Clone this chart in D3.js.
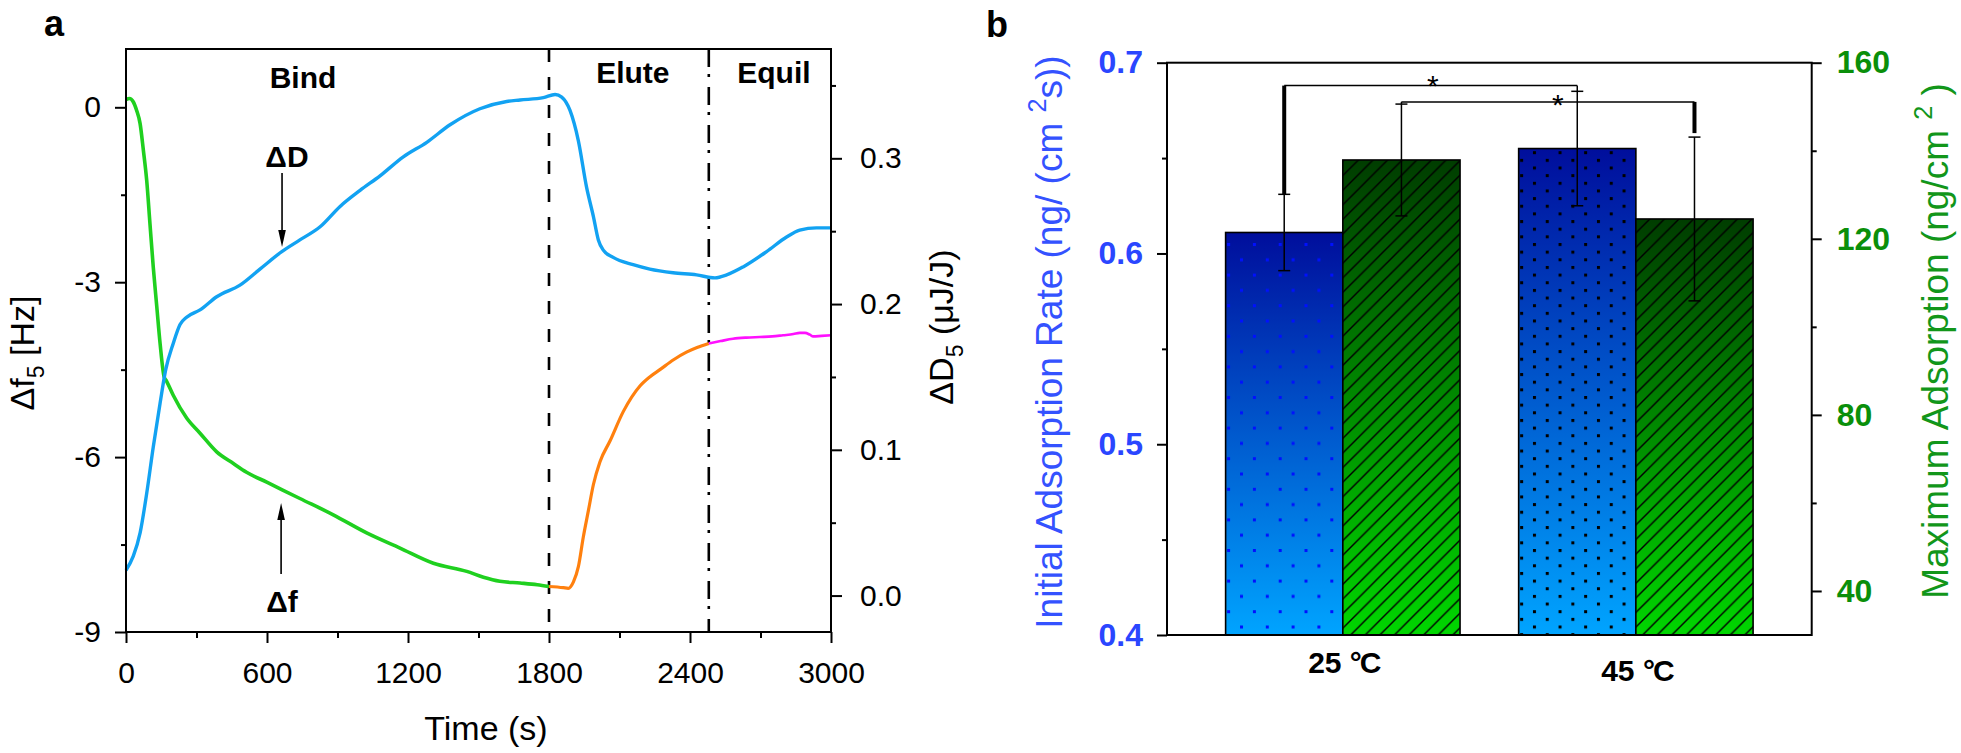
<!DOCTYPE html>
<html><head><meta charset="utf-8">
<script src="https://cdn.jsdelivr.net/npm/d3@7"></script>
<style>
html,body{margin:0;padding:0;background:#fff;}
svg{display:block;}
text{font-family:"Liberation Sans",Arial,Helvetica,sans-serif;white-space:pre;}
</style>
</head><body>
<svg id="c" width="1961" height="753"></svg>
<script>
// ================= Panel a data =================
const bindT = [0, 15, 30, 45, 60, 74, 88, 102, 116, 131, 145, 162, 173, 201, 258, 315, 386, 457, 513, 599, 740, 882, 1024, 1166, 1308, 1450, 1521, 1591, 1677, 1750, 1800];
const bindF = [0.13, 0.15, 0.10, -0.05, -0.28, -0.74, -1.25, -2.0, -2.74, -3.42, -4.05, -4.62, -4.70, -4.94, -5.33, -5.59, -5.91, -6.11, -6.26, -6.43, -6.71, -6.99, -7.30, -7.56, -7.82, -7.96, -8.06, -8.13, -8.16, -8.19, -8.22];
const eluteT = [1800, 1861, 1882, 1904, 1925, 1946, 1968, 1989, 2017, 2060, 2116, 2187, 2230, 2272, 2330, 2385, 2430, 2480];
const eluteF = [-8.22, -8.24, -8.25, -8.14, -7.88, -7.37, -6.91, -6.47, -6.08, -5.72, -5.22, -4.78, -4.62, -4.50, -4.33, -4.20, -4.12, -4.05];
const equilT = [2480, 2530, 2583, 2640, 2697, 2750, 2796, 2840, 2867, 2889, 2910, 2924, 2960, 3000];
const equilF = [-4.05, -4.01, -3.97, -3.95, -3.94, -3.93, -3.91, -3.89, -3.87, -3.87, -3.90, -3.93, -3.92, -3.91];
const dissT = [0, 31, 60, 88, 116, 145, 169, 201, 230, 258, 315, 386, 485, 570, 663, 740, 826, 911, 996, 1081, 1180, 1280, 1379, 1506, 1620, 1677, 1776, 1826, 1854, 1889, 1925, 1960, 1989, 2010, 2031, 2073, 2158, 2229, 2328, 2428, 2506, 2556, 2626, 2726, 2811, 2867, 2938, 3000];
const dissD = [0.0174, 0.027, 0.043, 0.070, 0.102, 0.132, 0.155, 0.173, 0.186, 0.191, 0.196, 0.205, 0.213, 0.224, 0.236, 0.244, 0.253, 0.267, 0.278, 0.288, 0.301, 0.311, 0.323, 0.334, 0.339, 0.340, 0.3416, 0.3438, 0.342, 0.333, 0.312, 0.280, 0.260, 0.244, 0.237, 0.232, 0.227, 0.224, 0.2215, 0.220, 0.218, 0.220, 0.2255, 0.236, 0.246, 0.2507, 0.2523, 0.2523];
const phaseLabels = ["Bind", "Elute", "Equil"];
const phaseLabelT = [753, 2157, 2757];
const phaseBoundaries = [1800, 2480];
const timeTicks = [0, 600, 1200, 1800, 2400, 3000];
const timeMinor = [300, 900, 1500, 2100, 2700];
const freqTicks = [0, -3, -6, -9];
const freqMinor = [-1.5, -4.5, -7.5];
const dissTicks = [0, 0.1, 0.2, 0.3];
const dissMinor = [0.05, 0.15, 0.25, 0.35];

// ================= Panel b data =================
const temps = ["25", "45"];
const rateMean = [0.611, 0.655];
const rateErr = [0.020, 0.030];
const maxMean = [137.9, 124.5];
const maxErr = [12.7, 18.6];
const rateTicks = [0.4, 0.5, 0.6, 0.7];
const rateMinor = [0.45, 0.55, 0.65];
const maxTicks = [40, 80, 120, 160];
const maxMinor = [60, 100, 140];
const sigRateLevel = 0.688;
const sigMaxLevel = 151.1;

// ================= drawing =================
const svg = d3.select("#c");
svg.append("rect").attr("width", 1961).attr("height", 753).attr("fill", "#fff");
const FONT = '"Liberation Sans",Arial,Helvetica,sans-serif';

function rich(t, parts, size) {
  let shift = 0;
  parts.forEach(p => {
    const ts = t.append("tspan").text(p.t);
    const target = p.sub ? size * 0.28 : p.sup ? -size * 0.42 : 0;
    ts.attr("dy", target - shift);
    shift = target;
    if (p.sub || p.sup) ts.attr("font-size", size * 0.68);
  });
}
function styleAxis(g, size, weight, color) {
  g.select(".domain").remove();
  g.selectAll(".tick line").attr("stroke", "#000").attr("stroke-width", 2);
  g.selectAll(".tick text").attr("font-size", size).attr("font-weight", weight)
    .attr("fill", color).attr("font-family", FONT);
}

// ---------- Panel a ----------
const ax = {l: 126, r: 831, t: 49, b: 632};
const x = d3.scaleLinear().domain([0, 3000]).range([ax.l, ax.r]);
const yF = d3.scaleLinear().domain([-9, 1]).range([ax.b, ax.t]);
const yD = d3.scaleLinear().domain([-0.025, 0.375]).range([ax.b, ax.t]);

const ga = svg.append("g");
styleAxis(ga.append("g").attr("transform", `translate(0,${ax.b})`)
  .call(d3.axisBottom(x).tickValues(timeTicks).tickSize(11).tickPadding(19).tickFormat(d => String(d))), 30, "normal", "#000");
styleAxis(ga.append("g").attr("transform", `translate(0,${ax.b})`)
  .call(d3.axisBottom(x).tickValues(timeMinor).tickSize(6).tickFormat("")), 30, "normal", "#000");
styleAxis(ga.append("g").attr("transform", `translate(${ax.l},0)`)
  .call(d3.axisLeft(yF).tickValues(freqTicks).tickSize(11).tickPadding(14).tickFormat(d => String(d))), 30, "normal", "#000");
styleAxis(ga.append("g").attr("transform", `translate(${ax.l},0)`)
  .call(d3.axisLeft(yF).tickValues(freqMinor).tickSize(5).tickFormat("")), 30, "normal", "#000");
styleAxis(ga.append("g").attr("transform", `translate(${ax.r},0)`)
  .call(d3.axisRight(yD).tickValues(dissTicks).tickSize(11).tickPadding(18).tickFormat(d3.format(".1f"))), 30, "normal", "#000");
styleAxis(ga.append("g").attr("transform", `translate(${ax.r},0)`)
  .call(d3.axisRight(yD).tickValues(dissMinor).tickSize(5).tickFormat("")), 30, "normal", "#000");

ga.append("line").attr("x1", x(phaseBoundaries[0])).attr("x2", x(phaseBoundaries[0]))
  .attr("y1", ax.t).attr("y2", ax.b).attr("stroke", "#000").attr("stroke-width", 2.6).attr("stroke-dasharray", "13,15");
ga.append("line").attr("x1", x(phaseBoundaries[1])).attr("x2", x(phaseBoundaries[1]))
  .attr("y1", ax.t).attr("y2", ax.b).attr("stroke", "#000").attr("stroke-width", 2.6).attr("stroke-dasharray", "18,7,3,10");

const lineF = d3.line().x(d => x(d[0])).y(d => yF(d[1])).curve(d3.curveMonotoneX);
const lineD = d3.line().x(d => x(d[0])).y(d => yD(d[1])).curve(d3.curveMonotoneX);
ga.append("path").attr("d", lineF(d3.zip(bindT, bindF))).attr("fill", "none").attr("stroke", "#1fd01f").attr("stroke-width", 3.6);
ga.append("path").attr("d", lineD(d3.zip(dissT, dissD))).attr("fill", "none").attr("stroke", "#12a2f2").attr("stroke-width", 3.4);
ga.append("path").attr("d", lineF(d3.zip(eluteT, eluteF))).attr("fill", "none").attr("stroke", "#ff800e").attr("stroke-width", 3.2);
ga.append("path").attr("d", lineF(d3.zip(equilT, equilF))).attr("fill", "none").attr("stroke", "#ff10ff").attr("stroke-width", 2.6);

ga.append("rect").attr("x", ax.l).attr("y", ax.t).attr("width", ax.r - ax.l).attr("height", ax.b - ax.t)
  .attr("fill", "none").attr("stroke", "#000").attr("stroke-width", 2);

phaseLabels.forEach((s, i) => {
  ga.append("text").attr("x", x(phaseLabelT[i])).attr("y", i === 0 ? 88 : 83).attr("text-anchor", "middle")
    .attr("font-size", 30).attr("font-weight", "bold").text(s);
});

function arrow(xp, y1, y2) {
  const dir = Math.sign(y2 - y1);
  ga.append("line").attr("x1", xp).attr("x2", xp).attr("y1", y1).attr("y2", y2 - dir * 14)
    .attr("stroke", "#000").attr("stroke-width", 1.6);
  ga.append("path").attr("d", `M${xp - 3.8},${y2 - dir * 17}L${xp + 3.8},${y2 - dir * 17}L${xp},${y2}Z`).attr("fill", "#000");
}
ga.append("text").attr("x", x(685)).attr("y", 167).attr("text-anchor", "middle").attr("font-size", 30).attr("font-weight", "bold").text("ΔD");
arrow(x(664), 173, 247);
ga.append("text").attr("x", x(664)).attr("y", 612).attr("text-anchor", "middle").attr("font-size", 30).attr("font-weight", "bold").text("Δf");
arrow(x(660), 574, 503);

ga.append("text").attr("x", 486).attr("y", 740).attr("text-anchor", "middle").attr("font-size", 34).text("Time (s)");
rich(ga.append("text").attr("transform", "translate(34,353) rotate(-90)").attr("text-anchor", "middle").attr("font-size", 34),
  [{t: "Δf"}, {t: "5", sub: true}, {t: " [Hz]"}], 34);
rich(ga.append("text").attr("transform", "translate(953,327) rotate(-90)").attr("text-anchor", "middle").attr("font-size", 34),
  [{t: "ΔD"}, {t: "5", sub: true}, {t: " (μJ/J)"}], 34);
ga.append("text").attr("x", 44).attr("y", 36).attr("font-size", 36).attr("font-weight", "bold").text("a");

// ---------- Panel b ----------
const bx = {l: 1167, r: 1811.7, t: 62.7, b: 635};
const band = d3.scaleBand().domain(temps).range([bx.l, bx.r]).paddingInner(0.2).paddingOuter(0.2);
const sub = d3.scaleBand().domain(["rate", "max"]).range([0, band.bandwidth()]);
const yL = d3.scaleLinear().domain([0.4, 0.7]).range([bx.b, bx.t]);
const yR = d3.scaleLinear().domain([30, 160]).range([bx.b, bx.t]);
const BLUE = "#2a46ff", GREEN = "#0a8f0a";

const gb = svg.append("g");
const defs = svg.append("defs");
const gBlue = defs.append("linearGradient").attr("id", "gBlue").attr("x1", 0).attr("y1", 0).attr("x2", 0).attr("y2", 1);
gBlue.append("stop").attr("offset", 0).attr("stop-color", "#000e9c");
gBlue.append("stop").attr("offset", 1).attr("stop-color", "#00a4ff");
const gGreen = defs.append("linearGradient").attr("id", "gGreen").attr("x1", 0).attr("y1", 0).attr("x2", 0).attr("y2", 1);
gGreen.append("stop").attr("offset", 0).attr("stop-color", "#003d00");
gGreen.append("stop").attr("offset", 1).attr("stop-color", "#00d600");

const hs = 14.6;
const hatch = defs.append("pattern").attr("id", "hatch").attr("patternUnits", "userSpaceOnUse")
  .attr("width", hs).attr("height", hs);
hatch.append("path").attr("d", `M-2,2L2,-2M0,${hs}L${hs},0M${hs - 2},${hs + 2}L${hs + 2},${hs - 2}`)
  .attr("stroke", "#000").attr("stroke-width", 1.4);

const dotCells = [{w: 25.8, h: 30.6, c: "#0010ff"}, {w: 25.6, h: 15.3, c: "#000"}];

styleAxis(gb.append("g").attr("transform", `translate(${bx.l},0)`)
  .call(d3.axisLeft(yL).tickValues(rateTicks).tickSize(10).tickPadding(14).tickFormat(d3.format(".1f"))), 32, "bold", BLUE);
styleAxis(gb.append("g").attr("transform", `translate(${bx.l},0)`)
  .call(d3.axisLeft(yL).tickValues(rateMinor).tickSize(5).tickFormat("")), 32, "bold", BLUE);
styleAxis(gb.append("g").attr("transform", `translate(${bx.r},0)`)
  .call(d3.axisRight(yR).tickValues(maxTicks).tickSize(10).tickPadding(15).tickFormat(d => String(d))), 32, "bold", GREEN);
styleAxis(gb.append("g").attr("transform", `translate(${bx.r},0)`)
  .call(d3.axisRight(yR).tickValues(maxMinor).tickSize(5).tickFormat("")), 32, "bold", GREEN);

temps.forEach((tp, i) => {
  const gx = band(tp);
  const bw = sub.bandwidth();
  const xb = gx + sub("rate"), yb = yL(rateMean[i]);
  gb.append("rect").attr("x", xb).attr("y", yb).attr("width", bw).attr("height", bx.b - yb).attr("fill", "url(#gBlue)");
  const cell = dotCells[i];
  const ax0 = xb + 3, ay0 = bx.b - 8 - cell.h / 2;
  const pat = defs.append("pattern").attr("id", "dots" + i).attr("patternUnits", "userSpaceOnUse")
    .attr("x", ax0 - 1.5).attr("y", ay0 - 1.5).attr("width", cell.w).attr("height", cell.h);
  pat.append("rect").attr("x", 0).attr("y", 0).attr("width", 3).attr("height", 3).attr("fill", cell.c);
  pat.append("rect").attr("x", cell.w / 2).attr("y", cell.h / 2).attr("width", 3).attr("height", 3).attr("fill", cell.c);
  gb.append("rect").attr("x", xb).attr("y", yb).attr("width", bw).attr("height", bx.b - yb).attr("fill", `url(#dots${i})`);
  gb.append("rect").attr("x", xb).attr("y", yb).attr("width", bw).attr("height", bx.b - yb)
    .attr("fill", "none").attr("stroke", "#000").attr("stroke-width", 1.6);
  const xg = gx + sub("max"), yg = yR(maxMean[i]);
  gb.append("rect").attr("x", xg).attr("y", yg).attr("width", bw).attr("height", bx.b - yg).attr("fill", "url(#gGreen)");
  gb.append("rect").attr("x", xg).attr("y", yg).attr("width", bw).attr("height", bx.b - yg).attr("fill", "url(#hatch)");
  gb.append("rect").attr("x", xg).attr("y", yg).attr("width", bw).attr("height", bx.b - yg)
    .attr("fill", "none").attr("stroke", "#000").attr("stroke-width", 1.6);
});

function errBar(cx, yTop, yBot) {
  gb.append("line").attr("x1", cx).attr("x2", cx).attr("y1", yTop).attr("y2", yBot).attr("stroke", "#000").attr("stroke-width", 1.5);
  [yTop, yBot].forEach(yy => gb.append("line").attr("x1", cx - 6).attr("x2", cx + 6).attr("y1", yy).attr("y2", yy)
    .attr("stroke", "#000").attr("stroke-width", 1.5));
}
const cRate = temps.map(tp => band(tp) + sub("rate") + sub.bandwidth() / 2);
const cMax = temps.map(tp => band(tp) + sub("max") + sub.bandwidth() / 2);
temps.forEach((tp, i) => {
  errBar(cRate[i], yL(rateMean[i] + rateErr[i]), yL(rateMean[i] - rateErr[i]));
  errBar(cMax[i], yR(maxMean[i] + maxErr[i]), yR(maxMean[i] - maxErr[i]));
});

function bracket(x1, x2, yLev, yTop1, yTop2, thickLeft) {
  gb.append("line").attr("x1", x1).attr("x2", x2).attr("y1", yLev).attr("y2", yLev).attr("stroke", "#000").attr("stroke-width", 1.5);
  gb.append("line").attr("x1", x1).attr("x2", x1).attr("y1", yLev).attr("y2", yTop1).attr("stroke", "#000").attr("stroke-width", thickLeft ? 4 : 1.5);
  gb.append("line").attr("x1", x2).attr("x2", x2).attr("y1", yLev).attr("y2", thickLeft ? yTop2 : yTop2 - 4).attr("stroke", "#000").attr("stroke-width", thickLeft ? 1.5 : 4);
}
bracket(cRate[0], cRate[1], yL(sigRateLevel), yL(rateMean[0] + rateErr[0]), yL(rateMean[1] + rateErr[1]), true);
bracket(cMax[0], cMax[1], yR(sigMaxLevel), yR(maxMean[0] + maxErr[0]), yR(maxMean[1] + maxErr[1]), false);
gb.append("text").attr("x", (cRate[0] + cRate[1]) / 2 + 2).attr("y", yL(sigRateLevel) + 10).attr("text-anchor", "middle").attr("font-size", 30).text("*");
gb.append("text").attr("x", (cMax[0] + cMax[1]) / 2 + 10).attr("y", yR(sigMaxLevel) + 13).attr("text-anchor", "middle").attr("font-size", 30).text("*");

gb.append("rect").attr("x", bx.l).attr("y", bx.t).attr("width", bx.r - bx.l).attr("height", bx.b - bx.t)
  .attr("fill", "none").attr("stroke", "#000").attr("stroke-width", 2);

temps.forEach((tp, i) => {
  const t = gb.append("text").attr("x", band(tp) + band.bandwidth() / 2 + 2).attr("y", i === 0 ? 673 : 681)
    .attr("text-anchor", "middle").attr("font-size", 30).attr("font-weight", "bold");
  t.append("tspan").text(tp + " °");
  t.append("tspan").attr("dx", -2).text("C");
});

rich(gb.append("text").attr("transform", "translate(1062,342) rotate(-90)").attr("text-anchor", "middle")
  .attr("font-size", 37).attr("fill", "#3452ff"),
  [{t: "Initial Adsorption Rate (ng/ (cm "}, {t: "2", sup: true}, {t: "s))"}], 37);
rich(gb.append("text").attr("transform", "translate(1948,341) rotate(-90)").attr("text-anchor", "middle")
  .attr("font-size", 37).attr("fill", "#12961a"),
  [{t: "Maximum Adsorption (ng/cm "}, {t: "2", sup: true}, {t: " )"}], 37);
gb.append("text").attr("x", 986).attr("y", 37).attr("font-size", 36).attr("font-weight", "bold").text("b");
</script>
</body></html>
